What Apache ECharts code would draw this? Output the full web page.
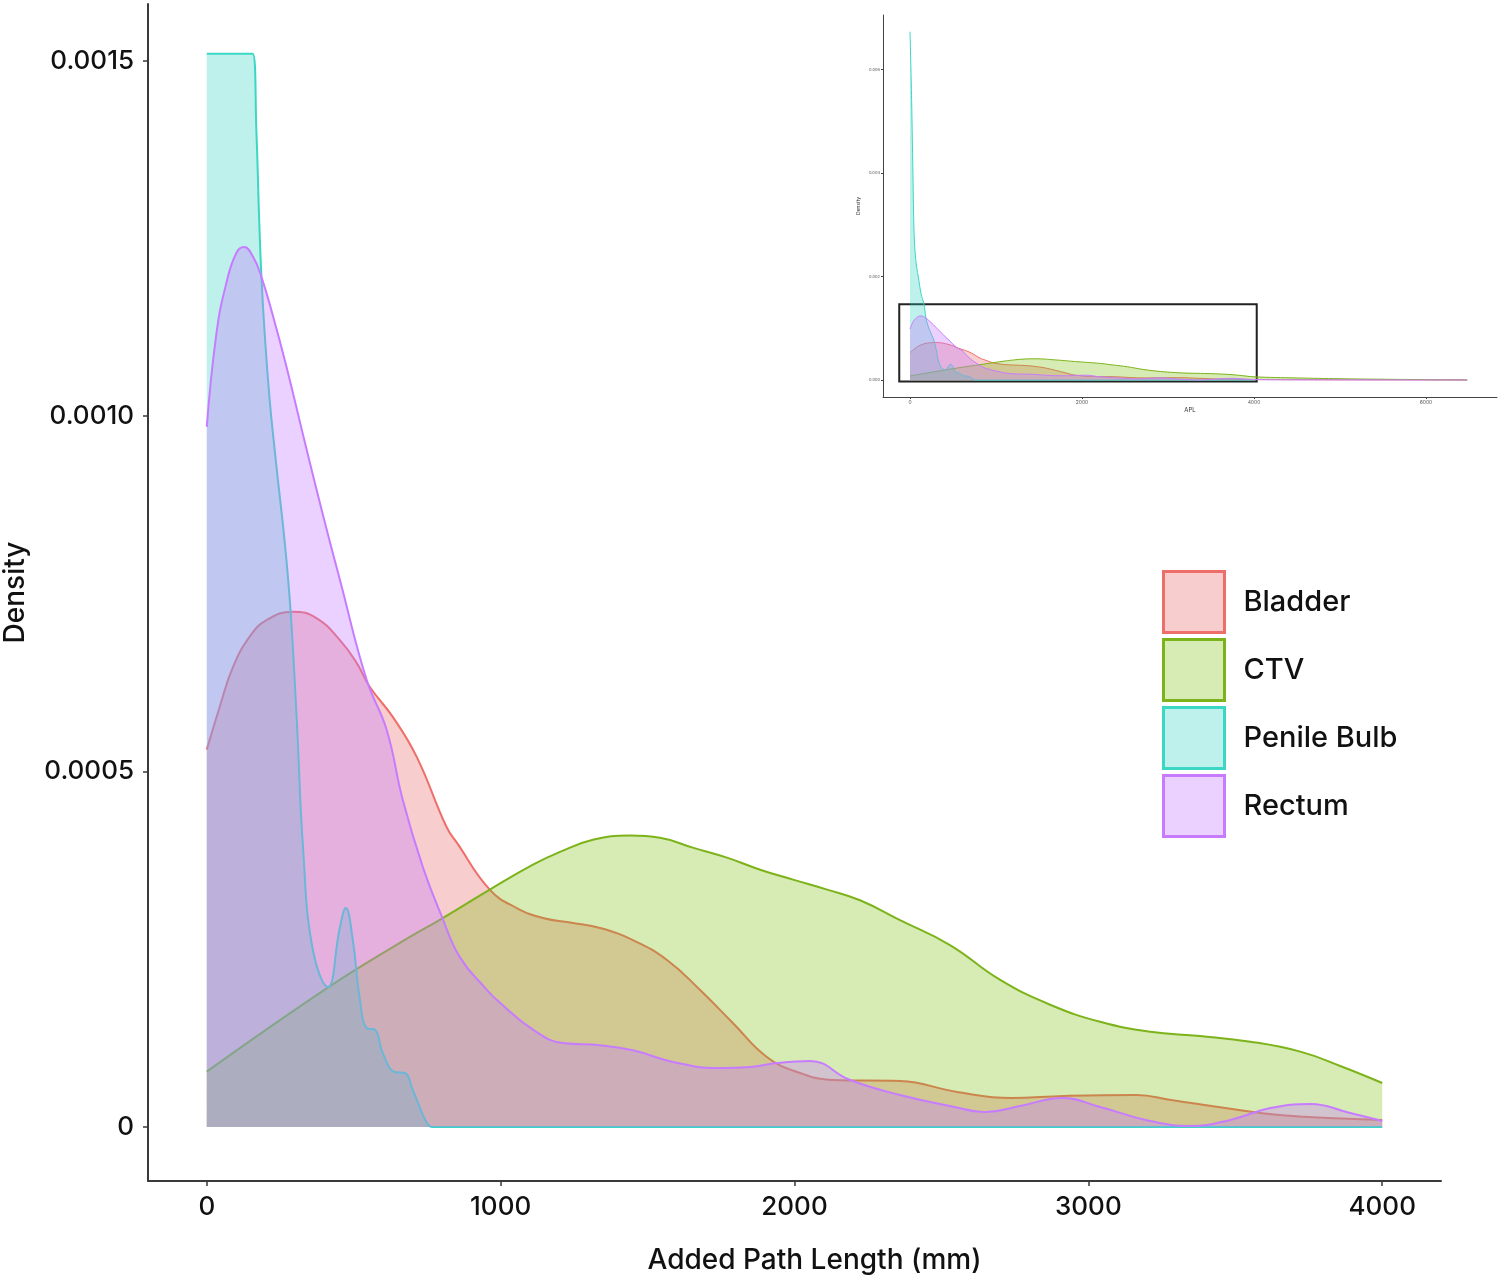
<!DOCTYPE html>
<html>
<head>
<meta charset="utf-8">
<script src="https://cdn.jsdelivr.net/npm/echarts@6/dist/echarts.min.js"></script>
<style>
html,body{margin:0;padding:0;background:#fff;}
#chart{width:1500px;height:1281px;}
</style>
</head>
<body>
<div id="chart"></div>
<script>
// ---- data ----
const seriesNames = ['Bladder', 'CTV', 'Penile Bulb', 'Rectum'];
const xTicks = [0, 1000, 2000, 3000, 4000];
const yTicks = [0, 0.0005, 0.001, 0.0015];
const yTickLabels = ['0', '0.0005', '0.0010', '0.0015'];

const bladder = [[0,0.000531],[44,0.000591],[89,0.000647],[146,0.000690],[203,0.000713],[293,0.000725],[373,0.000716],[453,0.000685],[510,0.000653],[555,0.000619],[633,0.000577],[714,0.000521],[816,0.000422],[851,0.000400],[963,0.000334],[1055,0.000308],[1144,0.000294],[1246,0.000287],[1338,0.000280],[1450,0.000263],[1566,0.000235],[1678,0.000193],[1791,0.000146],[1906,0.0000985],[2019,0.000076],[2131,0.0000661],[2359,0.0000647],[2553,0.0000493],[2737,0.0000408],[2917,0.0000436],[3163,0.000045],[3282,0.000038],[3466,0.0000267],[3649,0.0000169],[4000,0.0000099]];

const ctv = [[0,0.0000778],[412,0.000196],[657,0.000259],[803,0.000294],[963,0.000334],[1110,0.000369],[1202,0.000387],[1314,0.000404],[1440,0.000410],[1542,0.000407],[1654,0.000393],[1770,0.000379],[1883,0.000362],[1995,0.000348],[2111,0.000334],[2223,0.000319],[2359,0.000291],[2529,0.000256],[2700,0.000207],[2870,0.000172],[3040,0.000148],[3210,0.000134],[3380,0.000128],[3551,0.000120],[3721,0.000106],[3857,0.0000858],[4000,0.0000619]];

const penileBulb = [[0,0.00151],[78,0.00151],[156,0.00151],[169,0.001399],[178,0.001281],[186,0.001196],[197,0.001117],[214,0.001023],[231,0.000953],[277,0.000770],[305,0.000583],[328,0.000390],[361,0.000249],[412,0.000197],[453,0.000281],[473,0.000308],[497,0.000263],[521,0.000179],[545,0.000139],[572,0.000137],[599,0.000104],[640,0.0000774],[674,0.000076],[701,0.000052],[749,0.0000056],[769,0],[1500,0],[4000,0]];

const rectum = [[0,0.000985],[33,0.001117],[67,0.001188],[101,0.001230],[127,0.001238],[158,0.001224],[186,0.001196],[226,0.001140],[271,0.001070],[334,0.000963],[391,0.000868],[453,0.000770],[544,0.000629],[612,0.000559],[667,0.000460],[735,0.000366],[800,0.000296],[861,0.000239],[953,0.000193],[997,0.000175],[1110,0.000137],[1212,0.000118],[1338,0.000115],[1450,0.000108],[1586,0.0000915],[1736,0.000083],[1849,0.0000844],[1940,0.000090],[2053,0.0000929],[2189,0.0000661],[2359,0.000045],[2529,0.0000296],[2649,0.0000211],[2768,0.0000296],[2911,0.0000408],[3040,0.0000281],[3210,0.0000084],[3346,0.0000014],[3483,0.0000099],[3619,0.0000267],[3755,0.0000324],[3891,0.0000197],[4000,0.0000084]];

// inset (full range) extras
const insetXTicks = [0, 2000, 4000, 6000];
const insetYTicks = [0, 0.002, 0.004, 0.006];
const insetYTickLabels = ['0.000', '0.002', '0.004', '0.006'];
const penileInsetHead = [[0,0.00673],[19,0.0054],[34,0.0040],[48,0.00283],[68,0.00231],[97,0.00199],[131,0.00165]];
const bladderTail = [[4500,0.000006],[5000,0.000004],[6000,0.000002],[6480,0.000001]];
const ctvTail = [[4500,0.00004],[5000,0.000025],[5500,0.000015],[6000,0.000008],[6480,0.000001]];
const rectumTail = [[4500,0.000004],[5500,0.000002],[6480,0.000001]];
const zoomBox = [-125, -0.00003, 4032, 0.001463];

// ---- styles ----
const lineColors = ['#EE6E6A', '#7DB31A', '#3CD6C4', '#C77CFF'];
const fillColors = ['rgba(232,100,100,0.32)', 'rgba(124,190,10,0.30)', 'rgba(40,210,190,0.30)', 'rgba(199,124,255,0.35)'];
const FONT = 'Inter, "Open Sans", sans-serif';

const mainData = [bladder, ctv, penileBulb, rectum];
const insetData = [
  bladder.concat(bladderTail),
  ctv.concat(ctvTail),
  penileInsetHead.concat(penileBulb.filter(p => p[0] >= 156)),
  rectum.concat(rectumTail)
];

const series = [];
mainData.forEach((d, i) => {
  series.push({
    name: seriesNames[i], type: 'line', xAxisIndex: 0, yAxisIndex: 0,
    data: d, smooth: 0.45, showSymbol: false, symbol: 'none',
    lineStyle: { color: lineColors[i], width: 2 },
    itemStyle: { color: fillColors[i] },
    areaStyle: { color: fillColors[i], opacity: 1 },
    z: 2 + i, silent: true
  });
});
insetData.forEach((d, i) => {
  const s = {
    name: seriesNames[i], type: 'line', xAxisIndex: 1, yAxisIndex: 1,
    data: d, smooth: 0.4, showSymbol: false, symbol: 'none',
    lineStyle: { color: lineColors[i], width: 1 },
    itemStyle: { color: fillColors[i] },
    areaStyle: { color: fillColors[i], opacity: 1 },
    z: 2 + i, silent: true
  };
  if (i === 3) {
    s.markArea = {
      silent: true,
      itemStyle: { color: 'rgba(0,0,0,0)', borderColor: '#222', borderWidth: 2 },
      data: [[{ coord: [zoomBox[0], zoomBox[1]] }, { coord: [zoomBox[2], zoomBox[3]] }]]
    };
  }
  series.push(s);
});

const plain = (v) => String(v);

const chart = echarts.init(document.getElementById('chart'), null, { renderer: 'canvas' });
chart.setOption({
  backgroundColor: '#ffffff',
  animation: false,
  grid: [
    { left: 148, top: 4, width: 1293, height: 1177, outerBoundsMode: 'none', containLabel: false },
    { left: 883, top: 15, width: 614, height: 382, outerBoundsMode: 'none', containLabel: false }
  ],
  legend: {
    orient: 'vertical', left: 1162, top: 570, padding: 0,
    itemWidth: 61, itemHeight: 61, itemGap: 4,
    icon: 'rect',
    textStyle: { fontFamily: FONT, fontSize: 29, fontWeight: 500, color: '#111', padding: [0, 0, 0, 14] },
    data: seriesNames.map((n, i) => ({
      name: n, icon: 'rect',
      itemStyle: { color: fillColors[i], borderColor: lineColors[i], borderWidth: 3 }
    })),
    selectedMode: false
  },
  xAxis: [
    {
      type: 'value', gridIndex: 0, min: -200, max: 4200,
      name: 'Added Path Length (mm)', nameLocation: 'middle', nameGap: 66,
      nameTextStyle: { fontFamily: FONT, fontSize: 28, fontWeight: 500, color: '#111', padding: [0, 0, 0, 40] },
      axisLine: { show: true, onZero: false, lineStyle: { color: '#3a3a3a', width: 2 } },
      axisTick: { show: true, length: 5, customValues: xTicks, lineStyle: { color: '#3a3a3a', width: 1.5 } },
      axisLabel: { customValues: xTicks, formatter: plain, fontFamily: FONT, fontSize: 26, fontWeight: 500, color: '#111', margin: 13 },
      splitLine: { show: false }
    },
    {
      type: 'value', gridIndex: 1, min: -314, max: 6826,
      name: 'APL', nameLocation: 'middle', nameGap: 10,
      nameTextStyle: { fontFamily: FONT, fontSize: 6, color: '#333' },
      axisLine: { show: true, onZero: false, lineStyle: { color: '#444', width: 1 } },
      axisTick: { show: true, length: 2, customValues: insetXTicks, lineStyle: { color: '#444', width: 1 } },
      axisLabel: { customValues: insetXTicks, formatter: plain, fontFamily: FONT, fontSize: 5, color: '#555', margin: 3 },
      splitLine: { show: false }
    }
  ],
  yAxis: [
    {
      type: 'value', gridIndex: 0, min: -0.000076, max: 0.00158,
      name: 'Density', nameLocation: 'middle', nameGap: 118, nameRotate: 90,
      nameTextStyle: { fontFamily: FONT, fontSize: 28, fontWeight: 500, color: '#111' },
      axisLine: { show: true, onZero: false, lineStyle: { color: '#3a3a3a', width: 2 } },
      axisTick: { show: true, length: 5, customValues: yTicks, lineStyle: { color: '#3a3a3a', width: 1.5 } },
      axisLabel: {
        customValues: yTicks, fontFamily: FONT, fontSize: 26, fontWeight: 500, color: '#111', margin: 14,
        formatter: (v) => { const k = yTicks.findIndex(t => Math.abs(t - v) < 1e-9); return k >= 0 ? yTickLabels[k] : ''; }
      },
      splitLine: { show: false }
    },
    {
      type: 'value', gridIndex: 1, min: -0.000328, max: 0.007053,
      name: 'Density', nameLocation: 'middle', nameGap: 22, nameRotate: 90,
      nameTextStyle: { fontFamily: FONT, fontSize: 5, color: '#333' },
      axisLine: { show: true, onZero: false, lineStyle: { color: '#444', width: 1 } },
      axisTick: { show: true, length: 2, customValues: insetYTicks, lineStyle: { color: '#444', width: 1 } },
      axisLabel: {
        customValues: insetYTicks, fontFamily: FONT, fontSize: 4, color: '#555', margin: 3,
        formatter: (v) => { const k = insetYTicks.findIndex(t => Math.abs(t - v) < 1e-9); return k >= 0 ? insetYTickLabels[k] : ''; }
      },
      splitLine: { show: false }
    }
  ],
  series: series
});
</script>
</body>
</html>
